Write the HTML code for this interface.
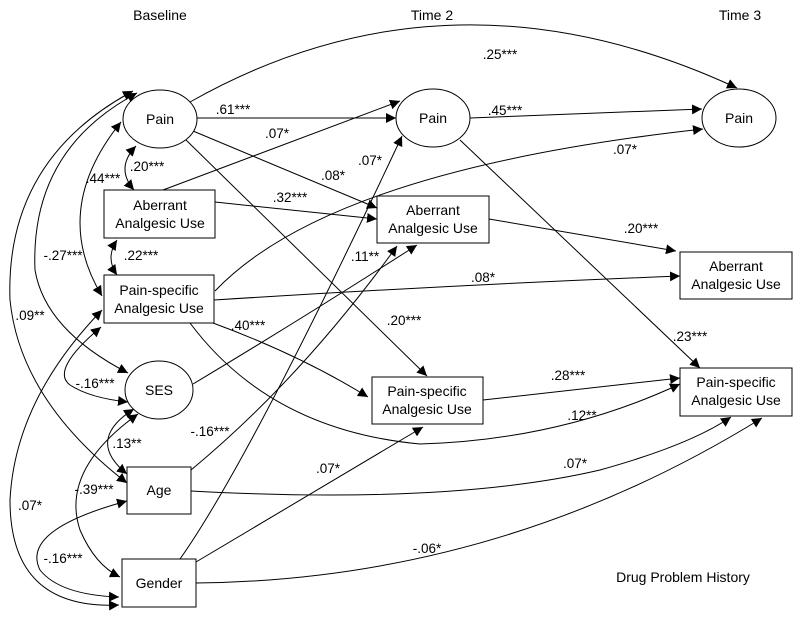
<!DOCTYPE html>
<html><head><meta charset="utf-8"><style>
body{margin:0;background:#fff}
svg{display:block;font-family:"Liberation Sans",Arial,sans-serif}
text{font-size:14px;fill:#000}
.l{font-size:13.5px}
path,line{fill:none;stroke:#000;stroke-width:1}
</style></head><body>
<svg width="800" height="617" viewBox="0 0 800 617">
<defs>
<marker id="a" viewBox="0 0 10 10" refX="10" refY="5" markerWidth="10" markerHeight="10" markerUnits="userSpaceOnUse" orient="auto-start-reverse"><path d="M0,0L10,5L0,10z" style="fill:#000;stroke:none"/></marker>
</defs>
<text x="160" y="20" text-anchor="middle">Baseline</text>
<text x="432" y="20" text-anchor="middle">Time 2</text>
<text x="740" y="20" text-anchor="middle">Time 3</text>
<text x="683" y="582" text-anchor="middle">Drug Problem History</text>

<g marker-end="url(#a)">
<path d="M190,102 Q450,-45 737,88"/>
<line x1="197" y1="118" x2="396" y2="118"/>
<line x1="163" y1="190" x2="400" y2="101"/>
<line x1="193" y1="131" x2="377" y2="208"/>
<line x1="215" y1="202" x2="377" y2="219"/>
<line x1="186" y1="140" x2="427" y2="376"/>
<path d="M215,291 Q330,170 703,129"/>
<path d="M214,300 Q450,285 680,276"/>
<path d="M213,323 Q300,355 368,397"/>
<path d="M190,323 Q270,430 420,444 Q560,440 680,384"/>
<path d="M193,384 Q300,320 417,245"/>
<path d="M191,470 Q300,380 397,246"/>
<path d="M180,559 Q250,460 402,136"/>
<path d="M196,562 Q300,500 423,427"/>
<line x1="460" y1="140" x2="700" y2="368"/>
<path d="M470,118 L702,109"/>
<line x1="489" y1="219" x2="676" y2="251"/>
<line x1="483" y1="400" x2="680" y2="378"/>
<path d="M191,491 Q450,505 600,470 Q690,445 731,417"/>
<path d="M196,583 Q500,580 762,418"/>
</g>
<g marker-start="url(#a)" marker-end="url(#a)">
<path d="M136,146 Q115,168 134,190"/>
<path d="M121,122 Q50,210 102,296"/>
<path d="M117,240 Q105,258 117,275"/>
<path d="M137,93 Q30,150 35,270 Q45,330 128,373"/>
<path d="M133,91 Q5,160 10,300 Q20,400 127,483"/>
<path d="M102,310 Q15,400 10,500 Q10,610 119,605"/>
<path d="M101,327 Q50,370 70,385 Q90,398 128,402"/>
<path d="M134,409 Q85,440 127,474"/>
<path d="M138,414 Q60,470 80,530 Q95,565 120,577"/>
<path d="M127,501 Q20,530 40,570 Q60,595 119,597"/>
</g>

<ellipse cx="160" cy="119" rx="37" ry="29" fill="#fff" stroke="#000"/>
<text x="160" y="124" text-anchor="middle">Pain</text>
<ellipse cx="433" cy="118" rx="37" ry="29" fill="#fff" stroke="#000"/>
<text x="433" y="123" text-anchor="middle">Pain</text>
<ellipse cx="739" cy="118" rx="37" ry="29" fill="#fff" stroke="#000"/>
<text x="739" y="123" text-anchor="middle">Pain</text>
<ellipse cx="159" cy="390" rx="34" ry="29" fill="#fff" stroke="#000"/>
<text x="159" y="395" text-anchor="middle">SES</text>

<rect x="104" y="190" width="111" height="48" fill="#fff" stroke="#000"/>
<text x="160" y="210" text-anchor="middle">Aberrant</text><text x="160" y="228" text-anchor="middle">Analgesic Use</text>
<rect x="104" y="275" width="110" height="48" fill="#fff" stroke="#000"/>
<text x="159" y="295" text-anchor="middle">Pain-specific</text><text x="159" y="313" text-anchor="middle">Analgesic Use</text>
<rect x="127" y="467" width="64" height="47" fill="#fff" stroke="#000"/>
<text x="159" y="495" text-anchor="middle">Age</text>
<rect x="122" y="559" width="74" height="48" fill="#fff" stroke="#000"/>
<text x="159" y="588" text-anchor="middle">Gender</text>
<rect x="377" y="196" width="112" height="47" fill="#fff" stroke="#000"/>
<text x="433" y="215" text-anchor="middle">Aberrant</text><text x="433" y="233" text-anchor="middle">Analgesic Use</text>
<rect x="372" y="377" width="111" height="47" fill="#fff" stroke="#000"/>
<text x="427" y="396" text-anchor="middle">Pain-specific</text><text x="427" y="414" text-anchor="middle">Analgesic Use</text>
<rect x="680" y="252" width="112" height="47" fill="#fff" stroke="#000"/>
<text x="736" y="271" text-anchor="middle">Aberrant</text><text x="736" y="289" text-anchor="middle">Analgesic Use</text>
<rect x="680" y="368" width="112" height="48" fill="#fff" stroke="#000"/>
<text x="736" y="387" text-anchor="middle">Pain-specific</text><text x="736" y="405" text-anchor="middle">Analgesic Use</text>

<g text-anchor="middle">
<text x="500" y="59" class="l">.25***</text>
<text x="233" y="114" class="l">.61***</text>
<text x="277" y="138" class="l">.07*</text>
<text x="370" y="165" class="l">.07*</text>
<text x="147" y="171" class="l">.20***</text>
<text x="103" y="183" class="l">.44***</text>
<text x="333" y="180" class="l">.08*</text>
<text x="290" y="202" class="l">.32***</text>
<text x="141" y="260" class="l">.22***</text>
<text x="63" y="260" class="l">-.27***</text>
<text x="365" y="261" class="l">.11**</text>
<text x="30" y="320" class="l">.09**</text>
<text x="248" y="330" class="l">.40***</text>
<text x="404" y="325" class="l">.20***</text>
<text x="505" y="115" class="l">.45***</text>
<text x="625" y="154" class="l">.07*</text>
<text x="641" y="233" class="l">.20***</text>
<text x="483" y="282" class="l">.08*</text>
<text x="690" y="341" class="l">.23***</text>
<text x="568" y="380" class="l">.28***</text>
<text x="582" y="420" class="l">.12**</text>
<text x="95" y="388" class="l">-.16***</text>
<text x="127" y="448" class="l">.13**</text>
<text x="210" y="436" class="l">-.16***</text>
<text x="94" y="494" class="l">-.39***</text>
<text x="30" y="510" class="l">.07*</text>
<text x="328" y="473" class="l">.07*</text>
<text x="575" y="468" class="l">.07*</text>
<text x="63" y="563" class="l">-.16***</text>
<text x="427" y="553" class="l">-.06*</text>
</g>
</svg>
</body></html>
